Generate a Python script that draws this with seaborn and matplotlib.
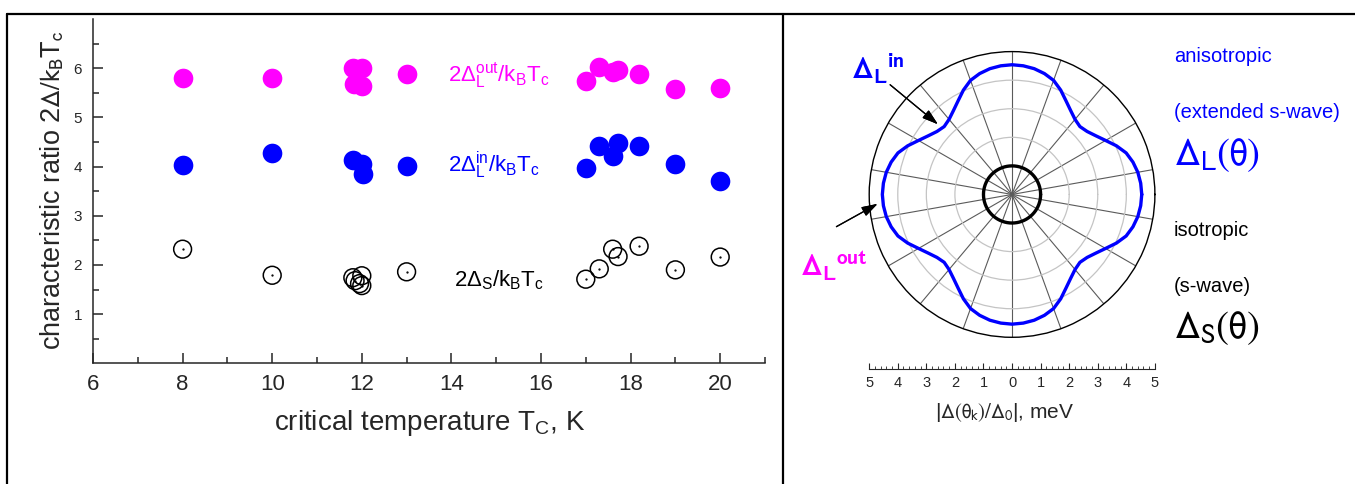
import numpy as np
import pandas as pd
import seaborn as sns
import matplotlib.pyplot as plt
from matplotlib import font_manager
from matplotlib.lines import Line2D

# left panel: characteristic ratios vs critical temperature
tc_out = [8, 10, 11.8, 12.0, 11.82, 12.0, 13, 17, 17.3, 17.6, 17.72, 18.19, 19, 20]
ratio_out = [5.80, 5.80, 6.00, 6.00, 5.68, 5.63, 5.88, 5.74, 6.03, 5.92, 5.97, 5.89, 5.57, 5.59]

tc_in = [8, 10, 11.8, 12.0, 12.02, 13, 17, 17.3, 17.6, 17.72, 18.19, 19, 20]
ratio_in = [4.03, 4.28, 4.13, 4.06, 3.85, 4.01, 3.98, 4.41, 4.22, 4.47, 4.42, 4.05, 3.70]

tc_s = [8, 10, 11.8, 11.85, 11.95, 12.0, 12.0, 13, 17, 17.3, 17.6, 17.72, 18.19, 19, 20]
ratio_s = [2.32, 1.79, 1.74, 1.68, 1.62, 1.78, 1.58, 1.86, 1.71, 1.92, 2.32, 2.17, 2.38, 1.90, 2.16]

# right panel: gap amplitude (meV) read every 5 deg over one octant (4-fold symmetric)
oct_angle = [0, 5, 10, 15, 20, 25, 30, 35, 40, 45]
oct_gap_L = [4.54, 4.52, 4.47, 4.38, 4.25, 4.03, 3.78, 3.58, 3.43, 3.36]
gap_S = 1.0

scale_ticks = [-5, -4, -3, -2, -1, 0, 1, 2, 3, 4, 5]

MAGENTA = "#ff00ff"
BLUE = "#0000ff"

sns.set_theme(style="ticks")
names = {f.name for f in font_manager.fontManager.ttflist}
narrow = "Liberation Sans Narrow" if "Liberation Sans Narrow" in names else "Liberation Sans"
plt.rcParams["font.family"] = [narrow, "DejaVu Sans"]
plt.rcParams["mathtext.fontset"] = "custom"
plt.rcParams["mathtext.rm"] = narrow
plt.rcParams["mathtext.it"] = narrow
plt.rcParams["mathtext.bf"] = narrow + ":bold"

W, H = 1355, 484
fig = plt.figure(figsize=(W / 100, H / 100), dpi=100)


def fx(x):
    return x / W


def fy(y):
    return 1 - y / H


# ---- left panel ----
ax = fig.add_axes([fx(93), fy(363.3), (765 - 93) / W, 344.3 / H])
df_out = pd.DataFrame({"tc": tc_out, "ratio": ratio_out})
df_in = pd.DataFrame({"tc": tc_in, "ratio": ratio_in})
df_s = pd.DataFrame({"tc": tc_s, "ratio": ratio_s})

sns.scatterplot(data=df_out, x="tc", y="ratio", color=MAGENTA, s=200, linewidth=0, ax=ax, zorder=3)
sns.scatterplot(data=df_in, x="tc", y="ratio", color=BLUE, s=200, linewidth=0, ax=ax, zorder=3)
ax.scatter(df_s["tc"], df_s["ratio"], s=165, facecolors="none", edgecolors="black", linewidths=1.1, zorder=3)
ax.scatter(df_s["tc"], df_s["ratio"], s=0.4, color="black", zorder=4)

ax.set_xlim(6, 21)
ax.set_ylim(0, 7)
ax.set_xticks(range(6, 21, 2))
ax.set_xticks(range(7, 22, 2), minor=True)
ax.set_yticks(range(1, 7))
ax.set_yticks(np.arange(0.5, 7, 1.0), minor=True)
ax.tick_params(direction="in", length=7, width=1.1, which="major")
ax.tick_params(direction="in", length=4, width=1.1, which="minor")
ax.tick_params(axis="x", labelsize=16, pad=8)
ax.tick_params(axis="y", labelsize=11, pad=8)
for side in ["top", "right"]:
    ax.spines[side].set_visible(False)
for side in ["left", "bottom"]:
    ax.spines[side].set_linewidth(1.1)
ax.set_xlabel("")
ax.set_ylabel("")

ax.text(13.92, 5.72, r"$\mathrm{2\Delta_L^{out}/k_BT_c}$", color=MAGENTA, fontsize=16, va="baseline")
ax.text(13.92, 3.89, r"$\mathrm{2\Delta_L^{in}/k_BT_c}$", color=BLUE, fontsize=16, va="baseline")
ax.text(14.06, 1.56, r"$\mathrm{2\Delta_S/k_BT_c}$", color="black", fontsize=16, va="baseline")

fig.text(fx(430), fy(423), r"critical temperature T$_\mathrm{C}$, K", fontsize=20, ha="center", va="center")
fig.text(fx(53), fy(190), r"characteristic ratio 2$\mathrm{\Delta/k_BT_c}$", fontsize=19.5,
         rotation=90, ha="center", va="center", family="Liberation Sans", math_fontfamily="stixsans")

# ---- right panel: polar plot ----
quarter_angle = oct_angle + [90 - a for a in oct_angle[-2::-1]]
quarter_r = oct_gap_L + oct_gap_L[-2::-1]
angles = [a + 90 * k for k in range(4) for a in quarter_angle[:-1]] + [360]
radii = quarter_r[:-1] * 4 + [quarter_r[0]]
df_L = pd.DataFrame({"theta": np.deg2rad(angles), "r": radii})
circ = np.arange(0, 361, 5)
df_S = pd.DataFrame({"theta": np.deg2rad(circ), "r": [gap_S] * len(circ)})

pax = fig.add_axes([fx(869.2), fy(337.3), 285.7 / W, 285.7 / H], projection="polar")
sns.lineplot(data=df_L, x="theta", y="r", sort=False, estimator=None, color=BLUE, lw=2.4, ax=pax, zorder=5)
sns.lineplot(data=df_S, x="theta", y="r", sort=False, estimator=None, color="black", lw=2.4, ax=pax, zorder=5)
pax.set_ylim(0, 5)
pax.set_yticks([1, 2, 3, 4])
pax.set_yticklabels([])
pax.set_xticks(np.deg2rad(np.arange(10, 360, 20)))
pax.set_xticks(np.deg2rad(np.arange(0, 360, 5)), minor=True)
pax.set_xticklabels([])
pax.grid(axis="y", color="#c4c4c4", lw=0.9)
pax.grid(axis="x", color="#5a5a5a", lw=0.8)
pax.tick_params(axis="x", which="both", direction="in", length=3, width=0.8, colors="black")
pax.spines["polar"].set_linewidth(1.0)
pax.spines["polar"].set_color("black")
pax.set_xlabel("")
pax.set_ylabel("")

# scale bar under the polar plot
sax = fig.add_axes([fx(869.2), fy(369), 285.7 / W, 0.001])
sax.set_xlim(-5, 5)
sax.set_xticks(scale_ticks)
sax.set_xticklabels([str(abs(t)) for t in scale_ticks])
sax.set_xticks(np.arange(-5, 5.01, 0.2), minor=True)
sax.set_yticks([])
sax.tick_params(axis="x", which="major", direction="in", length=4, width=0.8, labelsize=10.5, pad=5)
sax.tick_params(axis="x", which="minor", direction="in", length=2, width=0.6)
for lbl in sax.get_xticklabels():
    lbl.set_family("Liberation Sans")
for side in ["top", "left", "right"]:
    sax.spines[side].set_visible(False)
sax.spines["bottom"].set_linewidth(0.8)
sax.patch.set_alpha(0)

fig.text(fx(1005), fy(412), r"|$\mathrm{\Delta(\theta_k)/\Delta_0}$|, meV", fontsize=15, ha="center", va="center",
         family="Liberation Sans", math_fontfamily="stixsans")

# labels and arrows on the polar plot
fig.text(fx(851), fy(80), r"$\mathbf{\Delta}_\mathbf{L}{}^\mathbf{in}$", color=BLUE, fontsize=22,
         va="baseline", math_fontfamily="stixsans")
fig.text(fx(800), fy(277), r"$\mathbf{\Delta}_\mathbf{L}{}^\mathbf{out}$", color=MAGENTA, fontsize=22,
         va="baseline", math_fontfamily="stixsans")
fig.add_artist(plt.annotate("", xy=(fx(940), fy(126)), xytext=(fx(888), fy(83)), xycoords="figure fraction",
                            arrowprops=dict(arrowstyle="-|>,head_length=0.8,head_width=0.25", color="black", lw=0.9)))
fig.add_artist(plt.annotate("", xy=(fx(880), fy(202.5)), xytext=(fx(834), fy(228)), xycoords="figure fraction",
                            arrowprops=dict(arrowstyle="-|>,head_length=0.8,head_width=0.25", color="black", lw=0.9)))

# legend-like captions on the right
cap = dict(family="Liberation Sans", fontsize=14.5, va="center", ha="left")
fig.text(fx(1174), fy(57), "anisotropic", color=BLUE, **cap)
fig.text(fx(1174), fy(113), "(extended s-wave)", color=BLUE, **cap)
fig.text(fx(1174), fy(155), r"$\mathrm{\Delta_L(\theta)}$", color=BLUE, fontsize=28, va="center",
         math_fontfamily="stixsans")
fig.text(fx(1174), fy(230), "isotropic", color="black", **cap)
fig.text(fx(1174), fy(287), "(s-wave)", color="black", **cap)
fig.text(fx(1174), fy(328), r"$\mathrm{\Delta_S(\theta)}$", color="black", fontsize=28, va="center",
         math_fontfamily="stixsans")

# outer frame and divider
for xs, ys in [([7, W], [14, 14]), ([7, 7], [14, H]), ([783, 783], [14, H])]:
    fig.add_artist(Line2D([fx(v) for v in xs], [fy(v) for v in ys], color="black", lw=1.6))

fig.savefig("out.png", dpi=100)
